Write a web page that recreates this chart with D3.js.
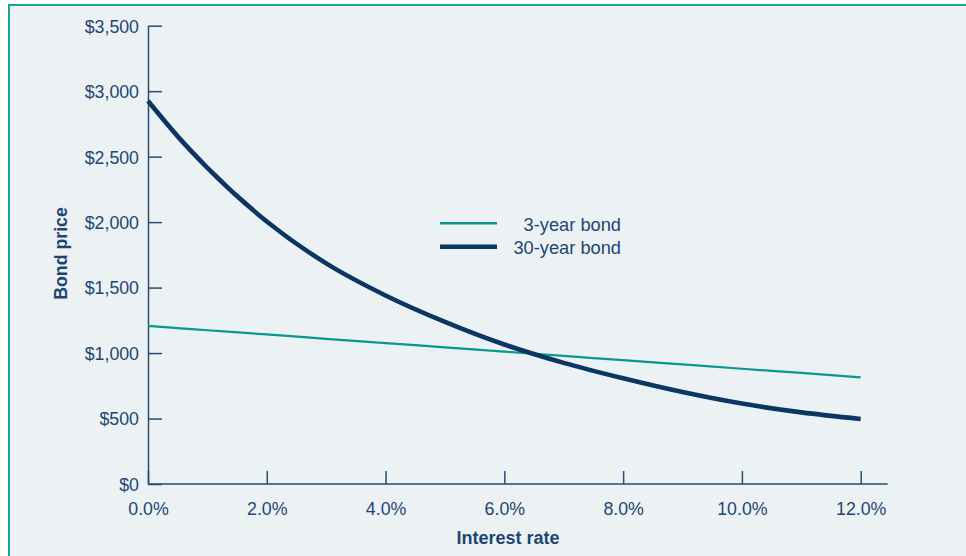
<!DOCTYPE html>
<html>
<head>
<meta charset="utf-8">
<script src="https://cdn.jsdelivr.net/npm/d3@7"></script>
<style>
  html, body { margin: 0; padding: 0; background: #ffffff; }
  svg { display: block; }
  text { font-family: "Liberation Sans", Arial, Helvetica, sans-serif; }
</style>
</head>
<body>
<svg id="chart" width="966" height="556"></svg>
<script>
// ---- data ----
const rates  = [0, 0.5, 1, 2, 3, 4, 5, 6, 7, 8, 9, 10, 11, 12];
const bond30 = [2925, 2655, 2415, 2005, 1685, 1440, 1238, 1065, 925, 807, 702, 614, 547, 497];
const bond3  = [1207, 1190, 1174, 1142, 1109, 1076, 1044, 1011, 978, 946, 913, 880, 848, 815];
const seriesNames = ["3-year bond", "30-year bond"];
const xTicks = [0, 2, 4, 6, 8, 10, 12];
const yTicks = [0, 500, 1000, 1500, 2000, 2500, 3000, 3500];
const xTitle = "Interest rate";
const yTitle = "Bond price";

// ---- styling ----
const TEXT = "#1d4673";
const AXIS = "#234d7a";
const NAVY = "#0b3664";
const TEAL = "#0a978e";
const FS = "17.75px";

const svg = d3.select("#chart");
svg.append("rect").attr("x", 9).attr("y", 5).attr("width", 957).attr("height", 551).attr("fill", "#ecf2f3");
svg.append("line").attr("x1", 8).attr("x2", 966).attr("y1", 5).attr("y2", 5).attr("stroke", "#1aa198").attr("stroke-width", 2);
svg.append("line").attr("x1", 9).attr("x2", 9).attr("y1", 4).attr("y2", 556).attr("stroke", "#1aa198").attr("stroke-width", 2);

const x = d3.scaleLinear().domain([0, 12]).range([148, 860.7]);
const y = d3.scaleLinear().domain([0, 3500]).range([484, 25.7]);

// y axis
const yAxis = svg.append("g").attr("transform", `translate(${x(0)},0)`)
  .call(d3.axisLeft(y).tickValues(yTicks).tickFormat(d3.format("$,")).tickSizeInner(-14).tickSizeOuter(0).tickPadding(9));
yAxis.select(".domain").attr("stroke", AXIS).attr("stroke-width", 1.5);
yAxis.selectAll(".tick line").attr("stroke", AXIS).attr("stroke-width", 1.5);
yAxis.selectAll(".tick text").attr("fill", TEXT).style("font-size", FS).attr("dy", "0.36em");

// x axis
const xAxis = svg.append("g").attr("transform", `translate(0,${y(0)})`)
  .call(d3.axisBottom(x).tickValues(xTicks).tickFormat(d => d3.format(".1f")(d) + "%").tickSizeInner(-13).tickSizeOuter(0).tickPadding(18.5));
xAxis.select(".domain").remove();
xAxis.append("line").attr("x1", x(0)).attr("x2", x(12) + 27).attr("y1", 0).attr("y2", 0)
  .attr("stroke", AXIS).attr("stroke-width", 1.5);
xAxis.selectAll(".tick line").attr("stroke", AXIS).attr("stroke-width", 1.5);
xAxis.selectAll(".tick text").attr("fill", TEXT).style("font-size", FS);

// titles
svg.append("text").attr("x", 508).attr("y", 544).attr("text-anchor", "middle")
  .attr("fill", TEXT).style("font-size", "18px").style("font-weight", "bold").text(xTitle);
svg.append("text").attr("transform", "translate(66.5,253.5) rotate(-90)").attr("text-anchor", "middle")
  .attr("fill", TEXT).style("font-size", "17.75px").style("font-weight", "bold").text(yTitle);

// lines
const line = d3.line().x(d => x(d[0])).y(d => y(d[1])).curve(d3.curveMonotoneX);
svg.append("path").datum(rates.map((r, i) => [r, bond3[i]]))
  .attr("d", line).attr("fill", "none").attr("stroke", TEAL).attr("stroke-width", 2.2);
svg.append("path").datum(rates.map((r, i) => [r, bond30[i]]))
  .attr("d", line).attr("fill", "none").attr("stroke", NAVY).attr("stroke-width", 4.6);

// legend
const legend = svg.append("g");
const lg = [
  { name: seriesNames[0], color: TEAL, w: 2.4, ly: 223.3, ty: 231 },
  { name: seriesNames[1], color: NAVY, w: 4.6, ly: 246.7, ty: 254.3 }
];
lg.forEach(s => {
  legend.append("line").attr("x1", 440).attr("x2", 497).attr("y1", s.ly).attr("y2", s.ly)
    .attr("stroke", s.color).attr("stroke-width", s.w);
  legend.append("text").attr("x", 621).attr("y", s.ty).attr("text-anchor", "end")
    .attr("fill", TEXT).style("font-size", "18.25px").text(s.name);
});
</script>
</body>
</html>
